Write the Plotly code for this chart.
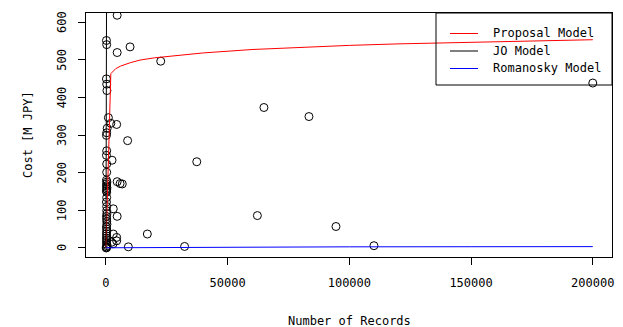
import plotly.graph_objects as go

# ---- data ----
rec_x = [300, 4600, 200, 300, 9900, 4600, 22500, 200, 300, 400, 200000, 64900, 83400,
         1000, 2000, 4400, 500, 300, 200, 8900, 300, 200, 2500, 37300, 300, 300,
         200, 400, 4600, 5800, 6700, 300, 200, 400, 300, 200, 300, 300, 200, 3000,
         300, 300, 400, 62200, 4600, 200, 300, 300, 400, 200, 300, 300, 94500, 200,
         3000, 17000, 300, 4400, 200, 300, 4400, 2300, 200, 2900, 300, 500, 110100,
         32300, 9200, 200, 300, 100]
cost_y = [635, 618, 551, 540, 534, 519, 496, 449, 435, 418, 438, 373, 349,
          346, 331, 328, 318, 306, 299, 285, 258, 246, 233, 229, 223, 201,
          180, 175, 176, 171, 170, 170, 165, 160, 156, 152, 148, 134, 122, 104,
          110, 99, 91, 86, 84, 84, 77, 70, 63, 56, 50, 44, 57, 38,
          37, 37, 32, 28, 26, 21, 19, 15, 15, 11, 10, 6, 6,
          4, 3, 3, 1, 0]

prop_x = [0, 2000, 4000, 6000, 10000, 14000, 20000, 40000, 60000, 80000, 100000,
          120000, 140000, 160000, 180000, 200000]
prop_y = [0, 463, 476, 483, 492, 499, 505, 518, 527, 533, 538, 542, 545, 548, 550, 553]

jo_x = [0, 250]
jo_y = [0, 700]

rom_x = [0, 50000, 100000, 150000, 200000]
rom_y = [0.5, 2.5, 3.0, 3.3, 3.6]

x_ticks = [0, 50000, 100000, 150000, 200000]
x_tick_labels = ["0", "50000", "100000", "150000", "200000"]
y_ticks = [0, 100, 200, 300, 400, 500, 600]
y_tick_labels = ["0", "100", "200", "300", "400", "500", "600"]

legend_names = ["Proposal Model", "JO Model", "Romanosky Model"]
legend_colors = ["red", "black", "blue"]

FONT = "DejaVu Sans Mono"
W, H = 623, 327
ML, MR, MT, MB = 86, 11, 13, 70
PW, PH = W - ML - MR, H - MT - MB


def px_x(p):
    return (p - ML) / PW


def px_y(p):
    return (H - MB - p) / PH


fig = go.Figure()
fig.add_trace(go.Scatter(x=rec_x, y=cost_y, mode="markers", showlegend=False,
                         marker=dict(symbol="circle-open", size=8, color="black",
                                     line=dict(width=1, color="black"))))
for name, xs, ys, col in [(legend_names[0], prop_x, prop_y, legend_colors[0]),
                          (legend_names[1], jo_x, jo_y, legend_colors[1]),
                          (legend_names[2], rom_x, rom_y, legend_colors[2])]:
    fig.add_trace(go.Scatter(x=xs, y=ys, mode="lines", name=name, showlegend=False,
                             line=dict(color=col, width=1)))

axis_common = dict(showline=True, linecolor="black", linewidth=1, mirror=True,
                   ticks="outside", ticklen=7, tickcolor="black", tickwidth=1,
                   showgrid=False, zeroline=False, automargin=False,
                   tickfont=dict(family=FONT, size=12, color="black"))

# legend drawn as a box like the original
shapes = [dict(type="rect", xref="paper", yref="paper",
               x0=px_x(436), x1=px_x(612), y0=px_y(85), y1=px_y(13),
               line=dict(color="black", width=1), fillcolor="rgba(0,0,0,0)")]
annotations = []
row_y = [33.5, 51, 68.5]
for name, col, ry in zip(legend_names, legend_colors, row_y):
    shapes.append(dict(type="line", xref="paper", yref="paper",
                       x0=px_x(450), x1=px_x(478), y0=px_y(ry), y1=px_y(ry),
                       line=dict(color=col, width=1)))
    annotations.append(dict(text=name, xref="paper", yref="paper",
                            x=px_x(491), y=px_y(ry), xanchor="left", yanchor="middle",
                            showarrow=False,
                            font=dict(family=FONT, size=12, color="black")))

# rotated y tick labels (parallel to the axis)
for v, lab in zip(y_ticks, y_tick_labels):
    annotations.append(dict(text=lab, xref="paper", yref="y", x=0, y=v,
                            xshift=-24, showarrow=False, xanchor="center",
                            yanchor="middle", textangle=-90,
                            font=dict(family=FONT, size=12, color="black")))

annotations += [
    dict(text="Number of Records", xref="paper", yref="paper", x=0.5, y=0,
         yshift=-64, showarrow=False, xanchor="center", yanchor="middle",
         font=dict(family=FONT, size=12, color="black")),
    dict(text="Cost [M JPY]", xref="paper", yref="paper", x=0, y=0.5,
         xshift=-58, showarrow=False, xanchor="center", yanchor="middle",
         textangle=-90, font=dict(family=FONT, size=12, color="black")),
]

fig.update_layout(
    width=W, height=H,
    margin=dict(l=ML, r=MR, t=MT, b=MB),
    paper_bgcolor="white", plot_bgcolor="white",
    font=dict(family=FONT, size=12, color="black"),
    showlegend=False,
    xaxis=dict(range=[-8200, 207900], tickvals=x_ticks, ticktext=x_tick_labels,
               ticklabelstandoff=8, **axis_common),
    yaxis=dict(range=[-24, 624], tickvals=y_ticks, showticklabels=False,
               **axis_common),
    shapes=shapes,
    annotations=annotations,
)

fig.write_html("out.html", config={"displayModeBar": False},
               post_script="document.body.style.margin='0';document.body.style.overflow='hidden';")
